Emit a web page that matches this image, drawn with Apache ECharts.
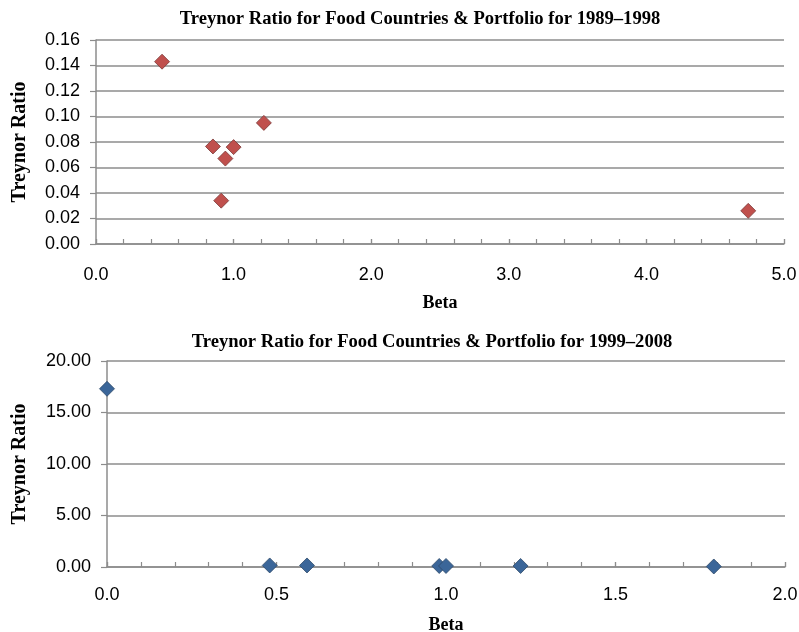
<!DOCTYPE html>
<html><head><meta charset="utf-8">
<script src="https://cdn.jsdelivr.net/npm/echarts@6/dist/echarts.min.js"></script>
<style>html,body{margin:0;padding:0;background:#fff}#c{width:799px;height:632px}</style>
</head><body><div id="c"></div>
<script>
// Panel 1: 1989–1998
const title1 = 'Treynor Ratio for Food Countries & Portfolio for 1989–1998';
const beta1 = [0.48, 0.85, 0.94, 1.00, 0.91, 1.22, 4.74];
const treynor1 = [0.143, 0.0765, 0.067, 0.076, 0.034, 0.095, 0.026];
// Panel 2: 1999–2008
const title2 = 'Treynor Ratio for Food Countries & Portfolio for 1999–2008';
const beta2 = [0.00, 0.48, 0.59, 0.98, 1.00, 1.22, 1.79];
const treynor2 = [17.3, 0.15, 0.15, 0.1, 0.1, 0.1, 0.05];
const xName = 'Beta';
const yName = 'Treynor Ratio';

const chart = echarts.init(document.getElementById('c'), null, {renderer: 'canvas'});
const gridCol = '#8c8c8c';
const serif = '"Liberation Serif", "Times New Roman", serif';
const sans = '"Liberation Sans", Arial, sans-serif';
const tickLbl = {color: '#000', fontFamily: sans, fontSize: 18};
const nameStyle = {color: '#000', fontFamily: serif, fontWeight: 'bold', fontSize: 20};
const xNameStyle = {color: '#000', fontFamily: serif, fontWeight: 'bold', fontSize: 18};

function xAx(gi, max, interval, dec, nameGap, margin) {
  return [{
    type: 'value', gridIndex: gi, min: 0, max: max, interval: interval,
    name: xName, nameLocation: 'middle', nameGap: nameGap, nameTextStyle: xNameStyle,
    axisLine: {show: true, onZero: false, lineStyle: {color: gridCol, width: 1.5}},
    axisTick: {show: true, inside: true, length: 5, lineStyle: {color: gridCol, width: 1.2}},
    minorTick: {show: true, splitNumber: 5, length: 5, lineStyle: {color: gridCol, width: 1.2}},
    splitLine: {show: false},
    axisLabel: Object.assign({formatter: v => v.toFixed(dec), margin: margin}, tickLbl)
  }, {
    type: 'value', gridIndex: gi, min: 0, max: max, interval: interval,
    axisLine: {show: false}, axisLabel: {show: false}, splitLine: {show: false},
    axisTick: {show: true, inside: false, length: 5, lineStyle: {color: gridCol, width: 1.2}}
  }];
}
function yAx(gi, max, interval, nameGap, margin) {
  return {
    type: 'value', gridIndex: gi, min: 0, max: max, interval: interval,
    name: yName, nameLocation: 'middle', nameGap: nameGap, nameTextStyle: nameStyle,
    axisLine: {show: true, lineStyle: {color: gridCol, width: 1.5}},
    axisTick: {show: true, length: 6, lineStyle: {color: gridCol, width: 1.2}},
    splitLine: {show: true, lineStyle: {color: gridCol, width: 1.5}},
    axisLabel: Object.assign({formatter: v => v.toFixed(2), margin: margin}, tickLbl)
  };
}

const option = {
  animation: false,
  backgroundColor: '#fff',
  title: [
    {text: title1, left: 415, top: 5, textAlign: 'center',
     textStyle: {fontFamily: serif, fontWeight: 'bold', fontSize: 18.6, color: '#000'}},
    {text: title2, left: 427, top: 328, textAlign: 'center',
     textStyle: {fontFamily: serif, fontWeight: 'bold', fontSize: 18.6, color: '#000'}}
  ],
  grid: [
    {left: 96, top: 40, width: 688, height: 204, containLabel: false, outerBoundsMode: 'none'},
    {left: 107, top: 361, width: 678, height: 206, containLabel: false, outerBoundsMode: 'none'}
  ],
  xAxis: [...xAx(0, 5, 1, 1, 50, 22), ...xAx(1, 2, 0.5, 1, 49, 19)],
  yAxis: [yAx(0, 0.16, 0.02, 66, 16), yAx(1, 20, 5, 77, 16)],
  series: [
    {type: 'scatter', xAxisIndex: 0, yAxisIndex: 0, symbol: 'diamond', symbolSize: 15,
     itemStyle: {color: '#C0504D', borderColor: '#7a3a38', borderWidth: 0.8, opacity: 1},
     data: beta1.map((b, i) => [b, treynor1[i]])},
    {type: 'scatter', xAxisIndex: 2, yAxisIndex: 1, symbol: 'diamond', symbolSize: 15,
     itemStyle: {color: '#3B6699', borderColor: '#2f4a6a', borderWidth: 0.8, opacity: 1},
     data: beta2.map((b, i) => [b, treynor2[i]])}
  ]
};
chart.setOption(option);
</script></body></html>
